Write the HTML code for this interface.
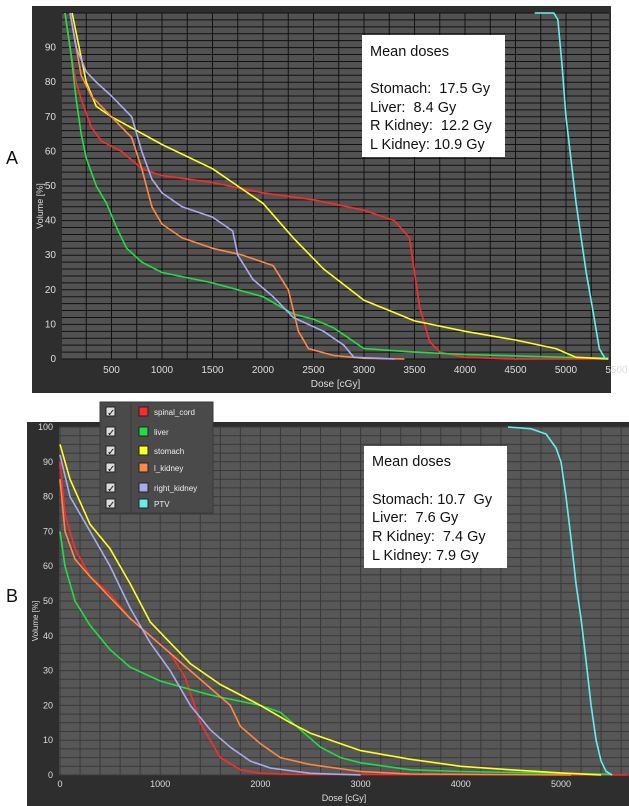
<!DOCTYPE html>
<html><head><meta charset="utf-8">
<style>
body{margin:0;background:#fff;width:629px;height:806px;overflow:hidden;font-family:"Liberation Sans",sans-serif}
svg{position:absolute;left:0;top:0}
.box{position:absolute;background:#fff;font-size:14.5px;line-height:18.5px;color:#111;padding:0 0 0 8px;box-sizing:border-box}
</style></head><body>
<svg id="chart" width="629" height="806"></svg>
<div class="box" style="left:362px;top:35px;width:143px;height:122px;padding-top:8px">Mean doses<br><br>Stomach:&nbsp; 17.5 Gy<br>Liver:&nbsp; 8.4 Gy<br>R Kidney:&nbsp; 12.2 Gy<br>L Kidney: 10.9 Gy</div>
<div class="box" style="left:364px;top:446px;width:143px;height:122px;padding-top:7px;line-height:18.8px">Mean doses<br><br>Stomach: 10.7&nbsp; Gy<br>Liver:&nbsp; 7.6 Gy<br>R Kidney:&nbsp; 7.4 Gy<br>L Kidney: 7.9 Gy</div>
<script>
const seriesNames=["spinal_cord","liver","stomach","l_kidney","right_kidney","PTV"];
const seriesColors=["#ff2a2a","#22dd44","#ffff22","#ff8844","#aaaaee","#66eeee"];
const aRed=[[40,100],[100,88],[150,80],[200,75],[300,67],[400,63],[600,60],[800,55],[1000,53],[1500,51],[2000,48],[2500,46],[3000,43],[3300,40],[3450,35],[3550,15],[3650,5],[3750,2],[4000,0.5],[4500,0],[5420,0]];
const aGreen=[[40,100],[100,88],[150,75],[200,65],[250,58],[350,50],[450,45],[550,38],[650,32],[800,28],[1000,25],[1500,22],[2000,18],[2300,13],[2500,11.5],[2700,9],[2900,5],[3000,3],[3500,2],[4000,1.3],[5000,0.5],[5420,0.3]];
const aYellow=[[110,100],[180,90],[250,80],[350,73],[500,70],[1000,62],[1500,55],[1800,49],[2000,45],[2300,35],[2600,26],[3000,17],[3500,11],[4000,8],[4500,5.5],[4900,3],[5100,0.5],[5420,0]];
const aOrange=[[90,100],[150,90],[200,82],[300,76],[500,70],[700,64],[800,55],[900,44],[1000,39],[1200,35],[1500,32],[1800,30],[2100,27],[2250,20],[2350,8],[2450,3],[2700,1],[3000,0.2],[3400,0]];
const aLav=[[90,100],[150,90],[250,83],[350,80],[500,76],[700,70],[800,60],[900,52],[1000,48],[1200,44],[1500,41],[1700,37],[1750,30],[1900,23],[2100,18],[2300,12],[2600,8],[2800,4],[2900,0.5],[3300,0]];
const aCyan=[[4690,100],[4880,100],[4920,98],[4960,85],[5000,70],[5100,45],[5200,25],[5260,15],[5330,3],[5390,0]];
const bRed=[[0,90],[50,75],[150,65],[300,57],[500,52],[700,45],[900,40],[1100,35],[1250,28],[1400,15],[1600,5],[1800,1.5],[2000,0.5],[2300,0.2],[5670,0]];
const bGreen=[[0,70],[50,60],[150,50],[300,43],[500,36],[700,31],[1000,27],[1500,23],[2000,20],[2200,18],[2400,13],[2600,8],[2800,5],[3000,3.5],[3500,1.5],[4000,1],[5000,0.5],[5500,0.2]];
const bYellow=[[0,95],[100,85],[300,72],[500,65],[700,55],[900,44],[1100,38],[1300,32],[1600,26],[2000,20],[2300,15],[2500,12],[3000,7],[3500,4.5],[4000,2.5],[4500,1.5],[5000,0.6],[5400,0]];
const bOrange=[[0,85],[50,70],[150,62],[300,57],[500,51],[700,45],[900,40],[1100,35],[1300,30],[1500,25],[1700,20],[1800,14],[2000,9],[2200,5],[2500,3],[3000,1],[3500,0.3],[5100,0]];
const bLav=[[0,92],[100,80],[300,70],[500,60],[700,48],[900,38],[1100,30],[1300,20],[1500,13],[1700,8],[1900,4],[2100,2],[2500,0.5],[3000,0]];
const bCyan=[[4470,100],[4700,99.5],[4850,98],[4950,94],[5000,90],[5050,80],[5100,68],[5150,55],[5200,45],[5250,33],[5300,20],[5350,10],[5400,4],[5450,1],[5510,0]];
const aXTicks=[500,1000,1500,2000,2500,3000,3500,4000,4500,5000,5500];
const aYTicks=[0,10,20,30,40,50,60,70,80,90];
const bXTicks=[0,1000,2000,3000,4000,5000];
const bYTicks=[0,10,20,30,40,50,60,70,80,90,100];
const NS="http://www.w3.org/2000/svg";
const svg=document.getElementById('chart');
function mk(t,a,p){const e=document.createElementNS(NS,t);for(const k in a)e.setAttribute(k,a[k]);(p||svg).appendChild(e);return e;}
function panel(cfg){
  const g=mk('g',{});
  
  
  mk('rect',{x:cfg.fx,y:cfg.fy,width:cfg.fw,height:cfg.fh,fill:'#2e2e2e'},g);
  const X=d=>cfg.x0px+d*cfg.sx;
  const Y=v=>cfg.b-(v/100)*(cfg.b-cfg.t);
  const cp=mk('clipPath',{id:'cp'+cfg.name},g);
  mk('rect',{x:cfg.l,y:cfg.t-2,width:cfg.r-cfg.l,height:cfg.b-cfg.t+4},cp);
  mk('rect',{x:cfg.l,y:cfg.t,width:cfg.r-cfg.l,height:cfg.b-cfg.t,fill:cfg.bg},g);
  for(let d=0;X(d)<=cfg.r;d+=cfg.gx){if(X(d)>=cfg.l)mk('line',{x1:X(d),x2:X(d),y1:cfg.t,y2:cfg.b,stroke:cfg.grid,'stroke-width':1},g);}
  for(let v=0;v<=100;v+=cfg.gy)mk('line',{x1:cfg.l,x2:cfg.r,y1:Y(v),y2:Y(v),stroke:cfg.grid,'stroke-width':1},g);
  cfg.xt.forEach(d=>{const t=mk('text',{x:X(d),y:cfg.b+cfg.xly,fill:'#ddd','font-size':cfg.fs,'text-anchor':'middle'},g);t.textContent=d;
    
    });
  cfg.yt.forEach(v=>{const t=mk('text',{x:cfg.l-6,y:Y(v)+3,fill:'#ddd','font-size':cfg.fs,'text-anchor':'end'},g);t.textContent=v;
    
    });
  const xl=mk('text',{x:(cfg.l+cfg.r)/2,y:cfg.b+cfg.xty,fill:'#ddd','font-size':cfg.fs,'text-anchor':'middle'},g);xl.textContent='Dose [cGy]';
  
  
  const yl=mk('text',{x:0,y:0,fill:'#ddd','font-size':cfg.fs-1,'text-anchor':'middle',transform:`translate(${cfg.fx+11},${(cfg.t+cfg.b)/2+20}) rotate(-90)`},g);yl.textContent='Volume [%]';
  
  
  const cg=mk('g',{'clip-path':'url(#cp'+cfg.name+')'},g);
  cfg.series.forEach((s,i)=>{
    const p=mk('polyline',{points:s.map(q=>X(q[0]).toFixed(1)+','+Y(q[1]).toFixed(1)).join(' '),fill:'none',stroke:seriesColors[i],'stroke-width':1.6,'stroke-linejoin':'round'},cg);
    
    
  });
  const L=mk('text',{x:cfg.lx,y:cfg.ly,fill:'#111','font-size':18},svg);L.textContent=cfg.label;
  
  
}
panel({name:'panel-a',fx:32,fy:6,fw:579,fh:387,l:62,r:609,t:13,b:359,x0px:61,sx:0.101,gx:250,gy:2,bg:'#525252',grid:'#111',fs:10,xly:14,xty:28,
  xt:aXTicks,yt:aYTicks,series:[aRed,aGreen,aYellow,aOrange,aLav,aCyan],label:'A',lx:6,ly:164});
panel({name:'panel-b',fx:27,fy:422,fw:602,fh:384,l:59,r:629,t:427,b:775,x0px:60,sx:0.1002,gx:200,gy:2.5,bg:'#575757',grid:'#3a3a3a',fs:9,xly:12,xty:26,
  xt:bXTicks,yt:bYTicks,series:[bRed,bGreen,bYellow,bOrange,bLav,bCyan],label:'B',lx:6,ly:602});
const lg=mk('g',{});


mk('rect',{x:100,y:402,width:113,height:111,fill:'#4a4a4a',stroke:'#3a3a3a'},lg);
mk('line',{x1:131,x2:131,y1:402,y2:513,stroke:'#3a3a3a'},lg);
const ly=[412,432,451,468,488,504];
seriesNames.forEach((n,i)=>{
  const cb=mk('rect',{x:106,y:ly[i]-5,width:9,height:9,fill:'#ddd',stroke:'#222'},lg);
  
  
  const ck=mk('text',{x:107,y:ly[i]+4,fill:'#111','font-size':10},lg);ck.textContent='✓';
  
  
  const sw=mk('rect',{x:139,y:ly[i]-5,width:9,height:9,fill:seriesColors[i],stroke:'#222'},lg);
  
  
  const t=mk('text',{x:154,y:ly[i]+3,fill:'#eee','font-size':8},lg);t.textContent=n;
  
  
});
</script>
</body></html>
